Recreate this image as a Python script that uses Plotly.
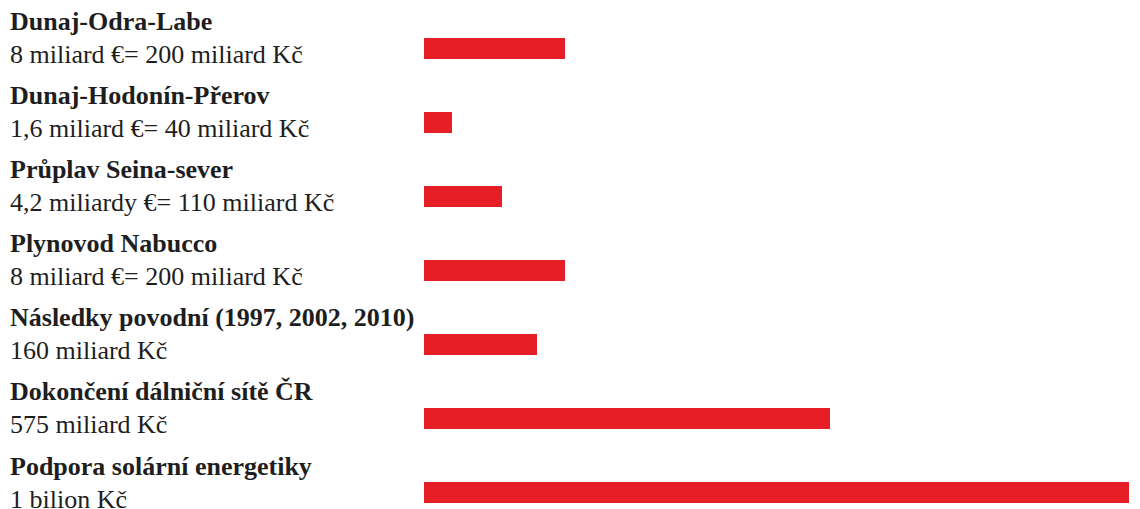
import plotly.graph_objects as go

# Data
projects = [
    "Dunaj-Odra-Labe",
    "Dunaj-Hodonín-Přerov",
    "Průplav Seina-sever",
    "Plynovod Nabucco",
    "Následky povodní (1997, 2002, 2010)",
    "Dokončení dálniční sítě ČR",
    "Podpora solární energetiky",
]
descriptions = [
    "8 miliard €= 200 miliard Kč",
    "1,6 miliard €= 40 miliard Kč",
    "4,2 miliardy €= 110 miliard Kč",
    "8 miliard €= 200 miliard Kč",
    "160 miliard Kč",
    "575 miliard Kč",
    "1 bilion Kč",
]
values_bn_czk = [200, 40, 110, 200, 160, 575, 1000]

W, H = 1140, 509
LEFT = 424
RED = "#e61e25"
TEXT = "#1e1e1e"
FONT = "Liberation Serif"

idx = list(range(len(projects)))

fig = go.Figure(
    go.Bar(
        x=values_bn_czk,
        y=idx,
        orientation="h",
        width=0.284,
        marker=dict(color=RED, line=dict(width=0)),
        hoverinfo="skip",
    )
)

label_x = (8 - LEFT) / (W - LEFT)
annotations = []
for i, (p, d) in enumerate(zip(projects, descriptions)):
    annotations.append(dict(
        text=f"<b>{p}</b>", x=label_x, xref="paper", y=i, yref="y",
        xanchor="left", yanchor="middle", yshift=26.5, showarrow=False,
        font=dict(family=FONT, size=26, color=TEXT),
    ))
    annotations.append(dict(
        text=d, x=label_x, xref="paper", y=i, yref="y",
        xanchor="left", yanchor="middle", yshift=-6.5, showarrow=False,
        font=dict(family=FONT, size=26, color=TEXT),
    ))

fig.update_layout(
    width=W, height=H,
    margin=dict(l=LEFT, r=0, t=0, b=0),
    paper_bgcolor="white", plot_bgcolor="white",
    showlegend=False,
    xaxis=dict(range=[0, 1015], visible=False, fixedrange=True),
    yaxis=dict(range=[6.223, -0.655], visible=False, fixedrange=True),
    annotations=annotations,
    bargap=0,
)

fig.write_html(
    "out.html",
    config={"displayModeBar": False},
    post_script="document.body.style.margin='0';document.body.style.padding='0';document.body.style.overflow='hidden';",
)
